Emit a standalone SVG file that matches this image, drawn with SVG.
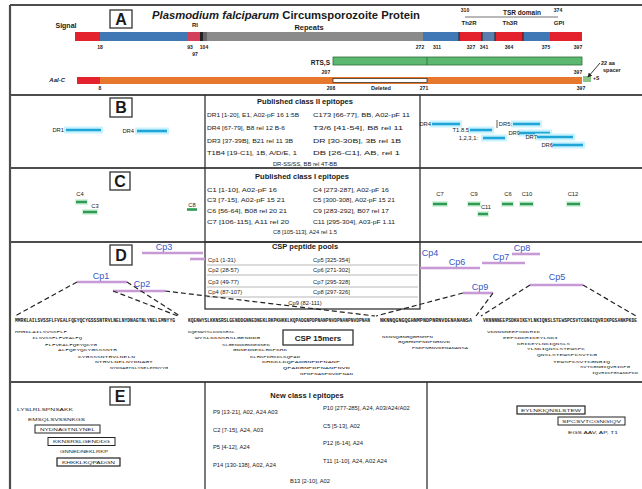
<svg xmlns="http://www.w3.org/2000/svg" width="642" height="489" viewBox="0 0 642 489">
<defs>
<style>
text{font-family:"Liberation Sans",Arial,sans-serif;fill:#1a1a1a}
.ln{stroke:#4d4d4d;stroke-width:2.2;fill:none}
.tl{stroke:#333;stroke-width:1.3;fill:none}
.rl{stroke:#888;stroke-width:0.6}
.bx{fill:#fff;stroke:#333;stroke-width:1.3}
.pl{font-size:16px;font-weight:bold;text-anchor:middle}
.n{font-size:5px;font-weight:bold;text-anchor:middle}
.s6{font-size:6.5px;font-weight:bold}
.tt{font-size:7.5px;font-weight:bold;text-anchor:middle}
.tr{font-size:5.8px}
.cy{stroke:#1fa6d6;stroke-width:2.6}
.cg{stroke:#c9f2ff;stroke-width:7}
.gr{stroke:#2e9b55;stroke-width:2.6}
.gg{stroke:#d6f3de;stroke-width:6}
.pp{stroke:#c79ad6;stroke-width:2.6}
.cp{font-size:9px;fill:#3457c4;text-anchor:middle}
.dl{fill:none;stroke:#222;stroke-width:1.2;stroke-dasharray:5 3}
.sq{font-size:4.6px;font-weight:bold;font-family:"Liberation Mono",monospace}
.pt{font-size:3.8px;font-family:"Liberation Mono",monospace}
.el{font-size:4px}
.bl{fill:#3f78b5}.rd{fill:#e3222e}.gy{fill:#8a8a8a}.or{fill:#e8772e}
</style>
<marker id="ah" viewBox="0 0 6 6" refX="5" refY="3" markerWidth="5" markerHeight="5" orient="auto"><path d="M0,0L6,3L0,6z" fill="#222"/></marker>
</defs>
<rect width="642" height="489" fill="#fff"/>

<g id="frame">
<line class="ln" x1="10" y1="5" x2="642" y2="5"/>
<line class="ln" x1="10" y1="5" x2="10" y2="489"/>
<line class="ln" x1="10" y1="95" x2="642" y2="95"/>
<line class="ln" x1="10" y1="168" x2="642" y2="168"/>
<line class="ln" x1="10" y1="242" x2="642" y2="242"/>
<line class="ln" x1="10" y1="382" x2="642" y2="382"/>
<line class="tl" x1="205" y1="95" x2="205" y2="242"/>
<line class="tl" x1="420" y1="95" x2="420" y2="242"/>
<rect class="tl" x="205" y="242" width="215" height="67"/>
<line class="tl" x1="205" y1="382" x2="205" y2="489"/>
<line class="tl" x1="427" y1="382" x2="427" y2="489"/>
</g>

<!-- Panel A -->
<g id="label-A"><rect class="bx" x="110" y="10" width="22" height="18"/><text class="pl" x="121" y="25">A</text></g>
<g id="title-A"><text x="152" y="19" font-size="10.5" font-weight="bold" textLength="268" lengthAdjust="spacingAndGlyphs"><tspan font-style="italic">Plasmodium falciparum</tspan> Circumsporozoite Protein</text>
<text x="309" y="30" font-size="7.5" font-weight="bold" text-anchor="middle">Repeats</text></g>
<g id="csp-bar">
<text x="66" y="28" font-size="7" font-weight="bold" text-anchor="middle">Signal</text>
<text x="195" y="27" font-size="6" font-weight="bold" text-anchor="middle">RI</text>
<rect class="rd" x="75" y="32" width="25" height="9"/>
<rect class="bl" x="100" y="32" width="88" height="9"/>
<rect fill="#d3405c" x="188" y="32" width="12" height="9"/>
<rect fill="#222" x="200" y="32" width="3" height="9"/>
<rect fill="#666" x="203" y="32" width="4" height="9"/>
<rect class="gy" x="207" y="32" width="216" height="9"/>
<rect class="bl" x="423" y="32" width="36" height="9"/>
<rect class="rd" x="459" y="32" width="23" height="9"/>
<rect fill="#5a7fae" x="482" y="32" width="13" height="9"/>
<rect class="rd" x="495" y="32" width="28" height="9"/>
<rect class="bl" x="523" y="32" width="27" height="9"/>
<rect class="rd" x="550" y="32" width="32" height="9"/>
<path d="M459 32v9M482 32v9M495 32v9M523 32v9" stroke="#222" stroke-width="1"/>
<text class="n" x="100" y="49">18</text>
<text class="n" x="190" y="49">93</text>
<text class="n" x="204" y="49">104</text>
<text class="n" x="195" y="56">97</text>
<text class="n" x="420" y="49">272</text>
<text class="n" x="437" y="49">311</text>
<text class="n" x="471" y="49">327</text>
<text class="n" x="484" y="49">341</text>
<text class="n" x="509" y="49">364</text>
<text class="n" x="546" y="49">375</text>
<text class="n" x="578" y="49">397</text>
<text class="n" x="465" y="12">310</text>
<text x="522" y="15" font-size="6.5" font-weight="bold" text-anchor="middle">TSR domain</text>
<text class="n" x="558" y="12">374</text>
<line x1="465" y1="17" x2="558" y2="17" stroke="#333" stroke-width="0.7"/>
<text x="469" y="25" font-size="6" font-weight="bold" text-anchor="middle">Th2R</text>
<text x="510" y="25" font-size="6" font-weight="bold" text-anchor="middle">Th3R</text>
<text x="559" y="25" font-size="6" font-weight="bold" text-anchor="middle">GPI</text>
</g>
<g id="rtss-bar">
<text class="s6" x="330" y="65" text-anchor="end">RTS,S</text>
<rect x="333" y="57" width="249" height="8" fill="#5cb870" stroke="#2f6e3a" stroke-width="0.8"/>
<line x1="427" y1="57" x2="427" y2="65" stroke="#2f6e3a" stroke-width="0.8"/>
</g>
<g id="aalc-bar">
<text x="65" y="82" font-size="6" font-weight="bold" font-style="italic" text-anchor="end">AaI-C</text>
<rect class="rd" x="77" y="77" width="23" height="7"/>
<rect class="or" x="100" y="77" width="482" height="7"/>
<rect x="333" y="78.5" width="94" height="4" fill="#fff" stroke="#222" stroke-width="0.7"/>
<rect x="583" y="76" width="8" height="6" fill="#8bc48a"/>
<text class="n" x="100" y="90">8</text>
<text class="n" x="326" y="74">207</text>
<text class="n" x="331" y="90">208</text>
<text x="381" y="90" font-size="5.5" font-weight="bold" text-anchor="middle">Deleted</text>
<text class="n" x="424" y="90">271</text>
<text class="n" x="578" y="74">397</text>
<text class="n" x="581" y="90">397</text>
<text x="601" y="65" font-size="5.5" font-weight="bold">22 aa</text>
<text x="603" y="72" font-size="5.5" font-weight="bold">spacer</text>
<text x="593" y="80" font-size="5" font-weight="bold">+S</text>
</g>

<!-- Panel B -->
<g id="label-B"><rect class="bx" x="110" y="98" width="22" height="19"/><text class="pl" x="121" y="113">B</text></g>
<g id="table-B">
<text class="tt" x="305" y="104">Published class II epitopes</text>
<text class="tr" x="207" y="117" textLength="92" lengthAdjust="spacingAndGlyphs">DR1 [1-20], E1, A02-pF 16 1:5B</text>
<text class="tr" x="207" y="130" textLength="78" lengthAdjust="spacingAndGlyphs">DR4 [67-79], B8 rel 12 B-6</text>
<text class="tr" x="207" y="143" textLength="86" lengthAdjust="spacingAndGlyphs">DR3 [37-39B], B21 rel 11 3B</text>
<text class="tr" x="207" y="155" textLength="90" lengthAdjust="spacingAndGlyphs">T1B4 [19-C1], 1B, A/D/E, 1</text>
<text class="tr" x="313" y="117" textLength="97" lengthAdjust="spacingAndGlyphs">C173 [66-77], BB, A02-pF 11</text>
<text class="tr" x="313" y="130" textLength="90" lengthAdjust="spacingAndGlyphs">T3/6 [41-54], B8 rel 11</text>
<text class="tr" x="313" y="143" textLength="88" lengthAdjust="spacingAndGlyphs">DR [30-30B], 3B rel 1B</text>
<text class="tr" x="313" y="155" textLength="87" lengthAdjust="spacingAndGlyphs">DB [26-C1], AB, rel 1</text>
<text class="tr" x="305" y="166" text-anchor="middle">DR-SS/SS, BB rel 4T-BB</text>
</g>
<g id="epi-B-left">
<line class="cg" x1="64" y1="130" x2="103" y2="130"/><line class="cy" x1="66" y1="130" x2="101" y2="130"/>
<text class="tr" x="64" y="132" text-anchor="end">DR1</text>
<line class="cg" x1="135" y1="131" x2="169" y2="131"/><line class="cy" x1="137" y1="131" x2="167" y2="131"/>
<text class="tr" x="134" y="133" text-anchor="end">DR4</text>
</g>
<g id="epi-B-right">
<line class="cg" x1="430" y1="124" x2="462" y2="124"/><line class="cy" x1="432" y1="124" x2="460" y2="124"/>
<text class="tr" x="431" y="126" text-anchor="end">DR4</text>
<line x1="497" y1="120" x2="497" y2="128" stroke="#333" stroke-width="0.8"/>
<line class="cg" x1="511" y1="124" x2="542" y2="124"/><line class="cy" x1="513" y1="124" x2="540" y2="124"/>
<text class="tr" x="512" y="126" text-anchor="end">DR5:</text>
<line class="cg" x1="468" y1="130" x2="494" y2="130"/><line class="cy" x1="470" y1="130" x2="492" y2="130"/>
<text class="tr" x="469" y="132" text-anchor="end">T1.8.5</text>
<line class="cg" x1="518" y1="133" x2="552" y2="133"/><line class="cy" x1="520" y1="133" x2="550" y2="133"/>
<text class="tr" x="520" y="135" text-anchor="end" fill="#b03040">DR9</text>
<line class="cg" x1="481" y1="138" x2="507" y2="138"/><line class="cy" x1="483" y1="138" x2="505" y2="138"/>
<text class="tr" x="478" y="140" text-anchor="end">1,2,3,1:</text>
<line class="cg" x1="535" y1="137" x2="575" y2="137"/><line class="cy" x1="537" y1="137" x2="573" y2="137"/>
<text class="tr" x="537" y="139" text-anchor="end">DR7</text>
<line class="cg" x1="551" y1="145" x2="585" y2="145"/><line class="cy" x1="553" y1="145" x2="583" y2="145"/>
<text class="tr" x="553" y="147" text-anchor="end" fill="#7a5a30">DR6</text>
</g>

<!-- Panel C -->
<g id="label-C"><rect class="bx" x="110" y="172" width="20" height="18"/><text class="pl" x="120" y="187">C</text></g>
<g id="table-C">
<text class="tt" x="302" y="179">Published class I epitopes</text>
<text class="tr" x="207" y="192" textLength="70" lengthAdjust="spacingAndGlyphs">C1 [1-10], A02-pF 16</text>
<text class="tr" x="207" y="202" textLength="78" lengthAdjust="spacingAndGlyphs">C3 [7-15], A02-pF 15 21</text>
<text class="tr" x="207" y="213" textLength="80" lengthAdjust="spacingAndGlyphs">C6 [56-64], B08 rel 20 21</text>
<text class="tr" x="207" y="224" textLength="82" lengthAdjust="spacingAndGlyphs">C7 [106-115], A11 rel 20</text>
<text class="tr" x="313" y="192" textLength="76" lengthAdjust="spacingAndGlyphs">C4 [273-287], A02-pF 16</text>
<text class="tr" x="313" y="202" textLength="82" lengthAdjust="spacingAndGlyphs">C5 [300-308], A02-pF 15 21</text>
<text class="tr" x="313" y="213" textLength="76" lengthAdjust="spacingAndGlyphs">C9 [283-292], B07 rel 17</text>
<text class="tr" x="313" y="224" textLength="82" lengthAdjust="spacingAndGlyphs">C11 [295-304], A03-pF 1.11</text>
<text class="tr" x="305" y="234" text-anchor="middle">C8 [105-113], A24 rel 1.5</text>
</g>
<g id="epi-C-left">
<text class="tr" x="80" y="196" text-anchor="middle">C4</text>
<line class="gg" x1="75" y1="202" x2="88" y2="202"/><line class="gr" x1="76" y1="202" x2="87" y2="202"/>
<text class="tr" x="95" y="208" text-anchor="middle">C3</text>
<line class="gg" x1="82" y1="212" x2="98" y2="212"/><line class="gr" x1="83" y1="212" x2="97" y2="212"/>
<text class="tr" x="192" y="207" text-anchor="middle">C8</text>
<line class="gr" x1="187" y1="209.5" x2="197" y2="209.5" stroke-width="1.5"/>
</g>
<g id="epi-C-right">
<text class="tr" x="440" y="196" text-anchor="middle">C7</text>
<line class="gg" x1="432" y1="204" x2="448" y2="204"/><line class="gr" x1="433" y1="204" x2="447" y2="204"/>
<text class="tr" x="474" y="196" text-anchor="middle">C9</text>
<line class="gg" x1="467" y1="204" x2="481" y2="204"/><line class="gr" x1="468" y1="204" x2="480" y2="204"/>
<text class="tr" x="486" y="209" text-anchor="middle">C11</text>
<line class="gg" x1="477" y1="214" x2="489" y2="214"/><line class="gr" x1="478" y1="214" x2="488" y2="214"/>
<text class="tr" x="508" y="196" text-anchor="middle">C6</text>
<line class="gg" x1="501" y1="204" x2="514" y2="204"/><line class="gr" x1="502" y1="204" x2="513" y2="204"/>
<text class="tr" x="527" y="196" text-anchor="middle">C10</text>
<line class="gg" x1="519" y1="204" x2="534" y2="204"/><line class="gr" x1="520" y1="204" x2="533" y2="204"/>
<text class="tr" x="573" y="196" text-anchor="middle">C12</text>
<line class="gg" x1="566" y1="204" x2="581" y2="204"/><line class="gr" x1="567" y1="204" x2="580" y2="204"/>
</g>

<!-- Panel D -->
<g id="label-D"><rect class="bx" x="110" y="245" width="22" height="20"/><text class="pl" x="121" y="261">D</text></g>
<g id="table-D">
<text class="tt" x="305" y="249">CSP peptide pools</text>
<path class="rl" d="M207 265H418M207 275H418M207 287H418M207 297H418"/>
<text class="tr" x="208" y="262">Cp1 (1-31)</text>
<text class="tr" x="208" y="272">Cp2 (28-57)</text>
<text class="tr" x="208" y="284">Cp3 (49-77)</text>
<text class="tr" x="208" y="294">Cp4 (87-107)</text>
<text class="tr" x="313" y="262">Cp5 [325-354]</text>
<text class="tr" x="313" y="272">Cp6 [271-302]</text>
<text class="tr" x="313" y="284">Cp7 [295-328]</text>
<text class="tr" x="313" y="294">Cp8 [297-326]</text>
<text class="tr" x="305" y="305" text-anchor="middle">Cp9 (82-111)</text>
</g>
<g id="pool-Cp3"><line class="pp" x1="142" y1="253" x2="203" y2="253"/><line class="pp" x1="190" y1="259" x2="205" y2="259" stroke="#d070b0"/><text class="cp" x="164" y="250">Cp3</text></g>
<g id="pool-Cp1"><line class="pp" x1="77" y1="282" x2="127" y2="282"/><text class="cp" x="101" y="279">Cp1</text></g>
<g id="pool-Cp2"><line class="pp" x1="113" y1="291" x2="165" y2="291"/><text class="cp" x="142" y="287">Cp2</text></g>
<g id="pool-Cp4"><line class="pp" x1="420" y1="268" x2="447" y2="268"/><text class="cp" x="430" y="256">Cp4</text></g>
<g id="pool-Cp6"><line class="pp" x1="447" y1="268" x2="480" y2="268"/><text class="cp" x="457" y="265">Cp6</text></g>
<g id="pool-Cp7"><line class="pp" x1="482" y1="263" x2="525" y2="263"/><text class="cp" x="501" y="260">Cp7</text></g>
<g id="pool-Cp8"><line class="pp" x1="512" y1="254" x2="540" y2="254"/><text class="cp" x="522" y="251">Cp8</text></g>
<g id="pool-Cp9"><line class="pp" x1="463" y1="293" x2="493" y2="293"/><text class="cp" x="480" y="290">Cp9</text></g>
<g id="pool-Cp5"><line class="pp" x1="530" y1="285" x2="583" y2="285"/><text class="cp" x="557" y="280">Cp5</text></g>

<g id="seq-1">
<text class="sq" x="15" y="322" textLength="160" lengthAdjust="spacingAndGlyphs">MMRKLAILSVSSFLFVEALFQEYQCYGSSSNTRVLNELNYDNAGTNLYNELEMNYYG</text>
<text class="pt" x="15" y="333" textLength="52" lengthAdjust="spacingAndGlyphs">MMRKLAILSVSSFLF</text>
<text class="pt" x="32" y="339" textLength="50" lengthAdjust="spacingAndGlyphs">ILSVSSFLFVEALFQ</text>
<text class="pt" x="45" y="346" textLength="52" lengthAdjust="spacingAndGlyphs">FLFVEALFQEYQCYG</text>
<text class="pt" x="58" y="351" textLength="59" lengthAdjust="spacingAndGlyphs">ALFQEYQCYGSSSNTR</text>
<text class="pt" x="78" y="358" textLength="57" lengthAdjust="spacingAndGlyphs">CYGSSSNTRVLNELN</text>
<text class="pt" x="95" y="363" textLength="58" lengthAdjust="spacingAndGlyphs">NTRVLNELNYDNAGT</text>
<text class="pt" x="110" y="369" textLength="58" lengthAdjust="spacingAndGlyphs">NYDNAGTNLYNELEMNYYG</text>
</g>
<g id="seq-2">
<text class="sq" x="188" y="322" textLength="182" lengthAdjust="spacingAndGlyphs">KQENWYSLKKNSRSLGENDDGNNEDNEKLRKPKHKKLKQPADGNPDPNANPNVDPNANPNVDPNAN</text>
<text class="pt" x="188" y="333" textLength="47" lengthAdjust="spacingAndGlyphs">KQENWYSLKKNSRSL</text>
<text class="pt" x="195" y="339" textLength="65" lengthAdjust="spacingAndGlyphs">WYSLKKNSRSLGENDDG</text>
<text class="pt" x="222" y="346" textLength="48" lengthAdjust="spacingAndGlyphs">SLGENDDGNNEDNEK</text>
<text class="pt" x="233" y="351" textLength="54" lengthAdjust="spacingAndGlyphs">GNNEDNEKLRKPKHK</text>
<text class="pt" x="250" y="358" textLength="50" lengthAdjust="spacingAndGlyphs">KLRKPKHKKLKQPAD</text>
<text class="pt" x="262" y="363" textLength="78" lengthAdjust="spacingAndGlyphs">KHKKLKQPADGNPDPNANP</text>
<text class="pt" x="283" y="369" textLength="67" lengthAdjust="spacingAndGlyphs">QPADGNPDPNANPNVD</text>
<text class="pt" x="300" y="375" textLength="53" lengthAdjust="spacingAndGlyphs">NPDPNANPNVDPNAN</text>
</g>
<g id="box-15mers"><rect x="283" y="330" width="70" height="15" fill="#fff" stroke="#222" stroke-width="1.2"/><text x="318" y="341" font-size="8" font-weight="bold" text-anchor="middle">CSP 15mers</text></g>
<g id="seq-3">
<text class="sq" x="380" y="322" textLength="92" lengthAdjust="spacingAndGlyphs">NKNNQGNGQGHNMPNDPNRNVDENANANSA</text>
<text class="pt" x="382" y="338" textLength="51" lengthAdjust="spacingAndGlyphs">NKNNQGNGQGHNMPN</text>
<text class="pt" x="398" y="343" textLength="52" lengthAdjust="spacingAndGlyphs">GQGHNMPNDPNRNVD</text>
<text class="pt" x="412" y="349" textLength="56" lengthAdjust="spacingAndGlyphs">PNDPNRNVDENANANSA</text>
</g>
<g id="seq-4">
<text class="sq" x="483" y="322" textLength="154" lengthAdjust="spacingAndGlyphs">VKNNNNEEPSDKHIKEYLNKIQNSLSTEWSPCSVTCGNGIQVRIKPGSANKPKDE</text>
<text class="pt" x="487" y="333" textLength="53" lengthAdjust="spacingAndGlyphs">VKNNNNEEPSDKHIK</text>
<text class="pt" x="503" y="339" textLength="55" lengthAdjust="spacingAndGlyphs">EEPSDKHIKEYLNKI</text>
<text class="pt" x="517" y="345" textLength="53" lengthAdjust="spacingAndGlyphs">KHIKEYLNKIQNSLS</text>
<text class="pt" x="527" y="350" textLength="58" lengthAdjust="spacingAndGlyphs">YLNKIQNSLSTEWSPC</text>
<text class="pt" x="537" y="356" textLength="60" lengthAdjust="spacingAndGlyphs">QNSLSTEWSPCSVTCG</text>
<text class="pt" x="553" y="363" textLength="57" lengthAdjust="spacingAndGlyphs">TEWSPCSVTCGNGIQ</text>
<text class="pt" x="580" y="368" textLength="50" lengthAdjust="spacingAndGlyphs">SVTCGNGIQVRIKPG</text>
<text class="pt" x="592" y="374" textLength="46" lengthAdjust="spacingAndGlyphs">IQVRIKPGSANKPKD</text>
</g>

<g id="connectors">
<path class="dl" d="M77 282L15 316"/>
<path class="dl" d="M127 282L180 316"/>
<path class="dl" d="M113 291L178 316"/>
<path class="dl" d="M165 291L375 316"/>
<path class="dl" d="M463 293L376 316"/>
<path class="dl" d="M493 293L476 316"/>
<path class="dl" d="M530 285L481 316"/>
<path class="dl" d="M583 285L636 316"/>
<line x1="600" y1="63" x2="588" y2="77" stroke="#222" stroke-width="0.9" marker-end="url(#ah)"/>
</g>

<!-- Panel E -->
<g id="label-E"><rect class="bx" x="110" y="387" width="20" height="18"/><text class="pl" x="120" y="402">E</text></g>
<g id="table-E">
<text class="tt" x="307" y="398">New class I epitopes</text>
<text class="tr" x="213" y="414">P9 [13-21], A02, A24 A03</text>
<text class="tr" x="213" y="432">C2 [7-15], A24, A03</text>
<text class="tr" x="213" y="449">P5 [4-12], A24</text>
<text class="tr" x="213" y="467">P14 [130-138], A02, A24</text>
<text class="tr" x="323" y="410">P10 [277-285], A24, A03/A24/A02</text>
<text class="tr" x="323" y="428">C5 [5-13], A02</text>
<text class="tr" x="323" y="445">P12 [6-14], A24</text>
<text class="tr" x="323" y="463">T11 [1-10], A24, A02 A24</text>
<text class="tr" x="310" y="483" text-anchor="middle">B13 [2-10], A02</text>
</g>
<g id="epi-E-left">
<text class="el" x="17" y="411" textLength="56" lengthAdjust="spacingAndGlyphs">LYSLRLSPNSAKK</text>
<text class="el" x="28" y="421" textLength="57" lengthAdjust="spacingAndGlyphs">EMSQLSVSSNKGS</text>
<rect x="35" y="425" width="65" height="8" fill="none" stroke="#222" stroke-width="1"/>
<text class="el" x="40" y="430.5" textLength="55" lengthAdjust="spacingAndGlyphs">NYDNAGTNLYNEL</text>
<rect x="48" y="437.5" width="67" height="8" fill="none" stroke="#222" stroke-width="1"/>
<text class="el" x="53" y="443" textLength="57" lengthAdjust="spacingAndGlyphs">KKNSRSLGENDDG</text>
<text class="el" x="60" y="453" textLength="48" lengthAdjust="spacingAndGlyphs">GNNEDNEKLRKP</text>
<rect x="57" y="458" width="63" height="8" fill="none" stroke="#222" stroke-width="1.2"/>
<text class="el" x="62" y="463.5" textLength="53" lengthAdjust="spacingAndGlyphs">KHKKLKQPADGN</text>
</g>
<g id="epi-E-right">
<rect x="517" y="406" width="68" height="8" fill="none" stroke="#222" stroke-width="1.2"/>
<text class="el" x="521" y="411.5" textLength="60" lengthAdjust="spacingAndGlyphs">EYLNKIQNSLSTEW</text>
<rect x="558" y="417" width="67" height="8" fill="none" stroke="#222" stroke-width="1"/>
<text class="el" x="562" y="422.5" textLength="59" lengthAdjust="spacingAndGlyphs">SPCSVTCGNGIQV</text>
<text class="el" x="568" y="434" textLength="50" lengthAdjust="spacingAndGlyphs">EGS AAV, AP, T1</text>
</g>
</svg>
